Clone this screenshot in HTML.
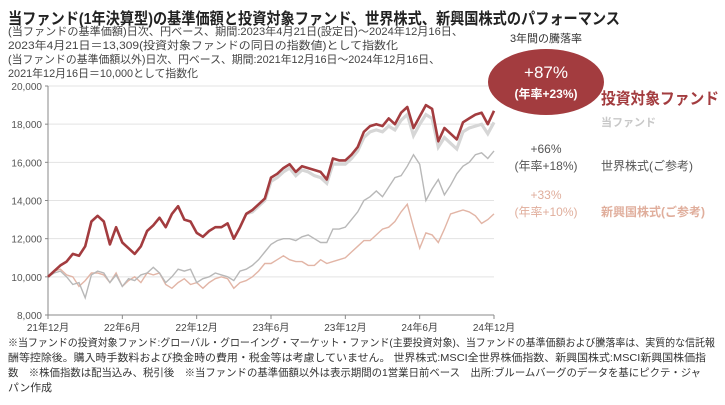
<!DOCTYPE html>
<html><head><meta charset="utf-8"><style>
body{margin:0;background:#fff;}
svg{display:block;font-family:"Liberation Sans","Noto Sans CJK JP",sans-serif;}
</style></head><body>
<svg id="chart" width="725" height="405" viewBox="0 0 725 405" xmlns="http://www.w3.org/2000/svg">
<g>
<text x="8" y="24" font-size="16" font-weight="bold" fill="#222" textLength="612" lengthAdjust="spacingAndGlyphs">当ファンド(1年決算型)の基準価額と投資対象ファンド、世界株式、新興国株式のパフォーマンス</text>
<text x="8" y="35" font-size="11" fill="#444" textLength="455" lengthAdjust="spacingAndGlyphs">(当ファンドの基準価額)日次、円ベース、期間:2023年4月21日(設定日)～2024年12月16日、</text>
<text x="8" y="49" font-size="11" fill="#444" textLength="390" lengthAdjust="spacingAndGlyphs">2023年4月21日＝13,309(投資対象ファンドの同日の指数値)として指数化</text>
<text x="8" y="63" font-size="11" fill="#444" textLength="432" lengthAdjust="spacingAndGlyphs">(当ファンドの基準価額以外)日次、円ベース、期間:2021年12月16日～2024年12月16日、</text>
<text x="8" y="77" font-size="11" fill="#444" textLength="190" lengthAdjust="spacingAndGlyphs">2021年12月16日＝10,000として指数化</text>
</g>
<g id="grid"></g>
<g id="axes"></g>
<g id="series"></g>
<g>
<text x="546" y="42" font-size="11" fill="#333" text-anchor="middle">3年間の騰落率</text>
<ellipse cx="546" cy="82" rx="58" ry="33" fill="#a33c3f"/>
<text x="546" y="78" font-size="17" fill="#fff" text-anchor="middle">+87%</text>
<text x="546" y="98" font-size="12" font-weight="bold" fill="#fff" text-anchor="middle">(年率+23%)</text>
<text x="601" y="104" font-size="16" font-weight="bold" fill="#a33c3f" textLength="118" lengthAdjust="spacingAndGlyphs">投資対象ファンド</text>
<text x="601" y="126" font-size="11" font-weight="bold" fill="#c8c8c8">当ファンド</text>
<text x="546" y="153" font-size="12" fill="#555" text-anchor="middle">+66%</text>
<text x="546" y="170" font-size="12" fill="#555" text-anchor="middle">(年率+18%)</text>
<text x="601" y="170" font-size="12" fill="#555">世界株式(ご参考)</text>
<text x="546" y="199" font-size="12" fill="#e0ae9c" text-anchor="middle">+33%</text>
<text x="546" y="216" font-size="12" fill="#e0ae9c" text-anchor="middle">(年率+10%)</text>
<text x="601" y="216" font-size="12" font-weight="bold" fill="#e0ae9c">新興国株式(ご参考)</text>
</g>
<g font-size="10.5" fill="#333">
<text x="8" y="346" textLength="707" lengthAdjust="spacingAndGlyphs">※当ファンドの投資対象ファンド:グローバル・グローイング・マーケット・ファンド(主要投資対象)、当ファンドの基準価額および騰落率は、実質的な信託報</text>
<text x="8" y="361" textLength="698" lengthAdjust="spacingAndGlyphs">酬等控除後。購入時手数料および換金時の費用・税金等は考慮していません。 世界株式:MSCI全世界株価指数、新興国株式:MSCI新興国株価指</text>
<text x="8" y="376" textLength="693" lengthAdjust="spacingAndGlyphs">数　※株価指数は配当込み、税引後　※当ファンドの基準価額以外は表示期間の1営業日前ベース　出所:ブルームバーグのデータを基にピクテ・ジャ</text>
<text x="8" y="391" textLength="44" lengthAdjust="spacingAndGlyphs">パン作成</text>
</g>
</svg>
<script>
const yTicks = [8000,10000,12000,14000,16000,18000,20000];
const xTickMonths = [0,6,12,18,24,30,36];
const xTickLabels = ["21年12月","22年6月","22年12月","23年6月","23年12月","24年6月","24年12月"];
const targetFund = [10000,10300,10600,10800,11200,11100,11600,12900,13200,12900,11700,12600,11800,11500,11200,11600,12400,12700,13100,12600,13300,13700,13000,12900,12300,12100,12400,12600,12600,12800,12000,12600,13300,13500,13800,14100,15200,15400,15700,15900,15500,15800,15700,15600,15500,15100,16200,16100,16100,16400,16800,17600,17900,18000,17900,18300,18000,18600,18900,17800,18400,19000,18800,17100,17800,17500,17200,18100,18300,18500,18600,18000,18700];
const thisFundStart = 16;
const thisFund = [13309,13400,13700,14000,15000,15200,15500,15700,15300,15600,15500,15300,15200,14900,15900,15900,15900,16200,16600,17300,17600,17700,17600,17900,17700,18200,18500,17400,18000,18500,18300,16800,17300,17000,16700,17600,17800,17900,18000,17500,18100];
const worldStock = [10000,10200,10300,10000,9600,9700,8900,10100,10300,10200,9700,10100,9500,9900,9800,10100,10200,10500,10200,9700,10000,10400,10300,10400,9700,9900,10000,10200,10100,10000,9800,10300,10400,10600,10900,11300,11700,11900,12000,12000,11900,12100,12200,12000,11800,11800,12500,12500,12600,13000,13400,14000,14200,14500,14200,14700,15200,15300,15800,16400,15900,14000,14600,15100,14300,14800,15400,15800,16000,16400,16500,16200,16600];
const emStock = [10000,10300,10400,10100,10000,9500,9800,10200,10200,10100,9700,10200,9500,9800,10000,9700,10200,10100,10200,9600,9400,9700,9900,9600,9700,9400,9700,9900,10000,9900,9400,9700,9800,10000,10300,10700,10700,10900,11100,10900,10800,10800,10600,10600,10900,10700,10800,10900,11000,11300,11600,11900,11900,12200,12500,12600,12900,13400,13800,12600,11500,12300,12200,11800,12500,13300,13400,13500,13400,13200,12800,13000,13300];

const NS="http://www.w3.org/2000/svg";
const X0=48,X1=494,Y0=315,Y1=86;
const xs=m=>X0+(m/36)*(X1-X0);
const ys=v=>Y0-(v-8000)/(20000-8000)*(Y0-Y1);
function mk(tag,attrs,parent){const e=document.createElementNS(NS,tag);for(const k in attrs)e.setAttribute(k,attrs[k]);parent.appendChild(e);return e;}
const grid=document.getElementById('grid'),axes=document.getElementById('axes'),series=document.getElementById('series');
yTicks.forEach(v=>{
  if(v>8000){const l=mk('line',{x1:X0,x2:X1,y1:ys(v),y2:ys(v),stroke:'#e3e3e3','stroke-width':1},grid);
  
  }
  const t=mk('text',{x:X0-6,y:ys(v)+4,'font-size':10,fill:'#555','text-anchor':'end'},axes);
  t.textContent=v.toLocaleString('en-US');
  
  
  const tk=mk('line',{x1:X0-3,x2:X0,y1:ys(v),y2:ys(v),stroke:'#888'},axes);
  
  
});
const ya=mk('line',{x1:X0,x2:X0,y1:Y1,y2:Y0,stroke:'#888'},axes);


const xa=mk('line',{x1:X0,x2:X1,y1:Y0,y2:Y0,stroke:'#888'},axes);


xTickMonths.forEach((m,i)=>{
  const tk=mk('line',{x1:xs(m),x2:xs(m),y1:Y0,y2:Y0+4,stroke:'#888'},axes);
  
  
  const t=mk('text',{x:xs(m),y:Y0+16,'font-size':10,fill:'#444','text-anchor':'middle'},axes);
  t.textContent=xTickLabels[i];
  
  
});
function pts(arr,start){return arr.map((v,i)=>xs(start+i*0.5).toFixed(1)+','+ys(v).toFixed(1)).join(' ');}
const em=mk('polyline',{points:pts(emStock,0),fill:'none',stroke:'#e2b5a6','stroke-width':1.4},series);


const wd=mk('polyline',{points:pts(worldStock,0),fill:'none',stroke:'#b8b8b8','stroke-width':1.4},series);


const tf=mk('polyline',{points:pts(thisFund,thisFundStart),fill:'none',stroke:'#d6d6d6','stroke-width':3.2},series);


const tg=mk('polyline',{points:pts(targetFund,0),fill:'none',stroke:'#a33c3f','stroke-width':2.6,'stroke-linejoin':'round'},series);


</script>
</body></html>
